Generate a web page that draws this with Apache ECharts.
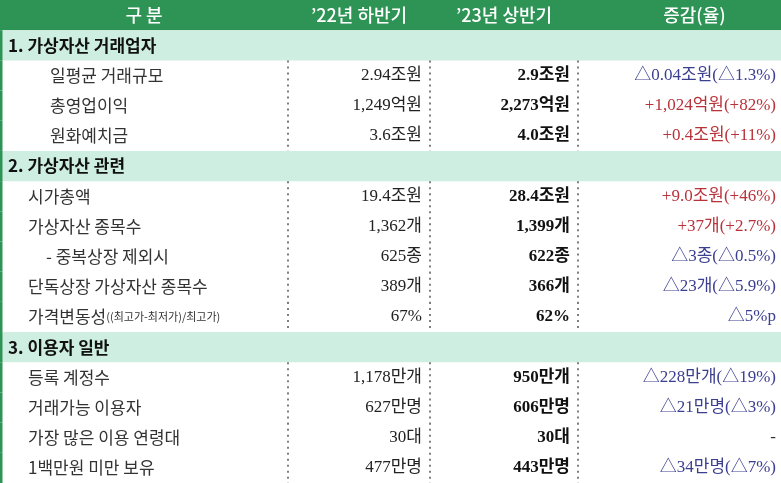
<!DOCTYPE html>
<html><head><meta charset="utf-8">
<script src="https://cdn.jsdelivr.net/npm/echarts@6/dist/echarts.min.js"></script>
<style>html,body{margin:0;padding:0;background:#fff}#c{width:781px;height:483px}</style>
</head><body><div id="c"></div>
<script>
const headers = ['구 분', '’22년 하반기', '’23년 상반기', '증감(율)'];
const rowTypes = ['sec','row','row','row','sec','row','row','row','row','row','sec','row','row','row','row'];
const labels = ['1. 가상자산 거래업자','일평균 거래규모','총영업이익','원화예치금',
  '2. 가상자산 관련','시가총액','가상자산 종목수',' - 중복상장 제외시','단독상장 가상자산 종목수','가격변동성|((최고가-최저가)/최고가)',
  '3. 이용자 일반','등록 계정수','거래가능 이용자','가장 많은 이용 연령대','1백만원 미만 보유'];
const h22 = ['','2.94조원','1,249억원','3.6조원','','19.4조원','1,362개','625종','389개','67%','','1,178만개','627만명','30대','477만명'];
const h23 = ['','2.9조원','2,273억원','4.0조원','','28.4조원','1,399개','622종','366개','62%','','950만개','606만명','30대','443만명'];
const changes = ['','△0.04조원(△1.3%)','+1,024억원(+82%)','+0.4조원(+11%)','','+9.0조원(+46%)','+37개(+2.7%)','△3종(△0.5%)','△23개(△5.9%)','△5%p','','△228만개(△19%)','△21만명(△3%)','-','△34만명(△7%)'];

const colEdges = [0, 288, 430, 578, 781];
const nRows = rowTypes.length + 1;
const FONT = '"Liberation Serif", "Noto Sans CJK KR", serif';
const SANS = '"Noto Sans CJK KR", sans-serif';
const data = [];
data.push({value:[0, 0], kind:'header'});
rowTypes.forEach((t,i)=>data.push({value:[0, i+1], kind:t, idx:i}));

function renderItem(params, api){
  const r = api.value(1);
  const d = data[params.dataIndex];
  const p0 = api.coord([0, r]);
  const p1 = api.coord([781, r+1]);
  const y0 = p0[1], y1 = p1[1], ym = (y0+y1)/2, hgt = y1-y0;
  const X = c => api.coord([colEdges[c], r])[0];
  const ch = [];
  if (d.kind === 'header') {
    ch.push({type:'rect', shape:{x:0,y:y0,width:781,height:hgt}, style:{fill:'#2e9455'}});
    for (let c=0;c<4;c++){
      ch.push({type:'text', style:{text:headers[c], x:(X(c)+X(c+1))/2 + (c===3?15:0), y:ym, align:'center', verticalAlign:'middle', fill:'#fff', font:'500 18px '+SANS}});
    }
  } else if (d.kind === 'sec') {
    ch.push({type:'rect', shape:{x:0,y:y0,width:781,height:hgt}, style:{fill:'#cdeee0'}});
    ch.push({type:'text', style:{text:labels[d.idx], x:8, y:ym, align:'left', verticalAlign:'middle', fill:'#111', font:'bold 17px '+SANS}});
  } else {
    const i = d.idx;
    const lab = labels[i];
    const indent = lab.startsWith(' -') ? 46 : (i<=3 ? 50 : 28);
    const parts = lab.trim().split('|');
    const txt = parts.length > 1 ? '{m|'+parts[0]+'}{s|'+parts[1]+'}' : '{m|'+parts[0]+'}';
    ch.push({type:'text', style:{text:txt, x:indent, y:ym, align:'left', verticalAlign:'middle',
      rich:{m:{fill:'#333', font:'17px '+SANS}, s:{fill:'#333', font:'11px '+SANS}}}});
    ch.push({type:'text', style:{text:h22[i], x:X(2)-8, y:ym, align:'right', verticalAlign:'middle', fill:'#222', font:'17px '+FONT}});
    ch.push({type:'text', style:{text:h23[i], x:X(3)-8, y:ym, align:'right', verticalAlign:'middle', fill:'#111', font:'bold 17px '+FONT}});
    const ct = changes[i];
    const col = ct.startsWith('+') ? '#b8323a' : (ct.startsWith('△') ? '#3b3f8f' : '#333');
    ch.push({type:'text', style:{text:ct, x:776, y:ym, align:'right', verticalAlign:'middle', fill:col, font:'17px '+FONT}});
    for (let c=1;c<4;c++){
      ch.push({type:'line', shape:{x1:X(c),y1:y0,x2:X(c),y2:y1}, style:{stroke:'#555', lineWidth:1.5, lineDash:[2,4]}});
    }
  }
  ch.push({type:'line', shape:{x1:1,y1:y0,x2:1,y2:y1}, style:{stroke:'#2e9455', lineWidth:3}});
  return {type:'group', children:ch};
}

const chart = echarts.init(document.getElementById('c'));
chart.setOption({
  animation:false,
  grid:{left:0,right:0,top:0,bottom:0},
  xAxis:{type:'value', min:0, max:781, show:false},
  yAxis:{type:'value', min:0, max:nRows, inverse:true, show:false},
  series:[{type:'custom', renderItem, data, clip:false}]
});
</script></body></html>
